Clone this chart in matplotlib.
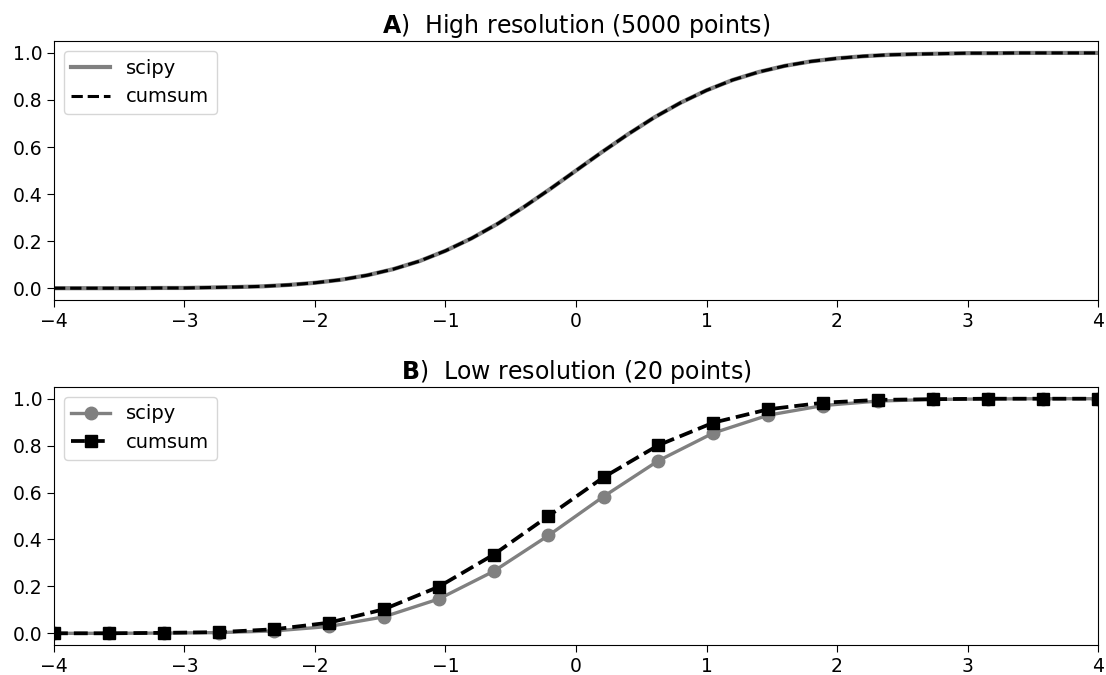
import numpy as np
import matplotlib.pyplot as plt

# high resolution curve, sampled every 0.2
x_hi = [-4.0, -3.8, -3.6, -3.4, -3.2, -3.0, -2.8, -2.6, -2.4, -2.2, -2.0,
        -1.8, -1.6, -1.4, -1.2, -1.0, -0.8, -0.6, -0.4, -0.2, 0.0,
        0.2, 0.4, 0.6, 0.8, 1.0, 1.2, 1.4, 1.6, 1.8, 2.0,
        2.2, 2.4, 2.6, 2.8, 3.0, 3.2, 3.4, 3.6, 3.8, 4.0]
y_hi = [0.000, 0.000, 0.000, 0.000, 0.001, 0.001, 0.003, 0.005, 0.008, 0.014, 0.023,
        0.036, 0.055, 0.081, 0.115, 0.159, 0.212, 0.274, 0.345, 0.421, 0.500,
        0.579, 0.655, 0.726, 0.788, 0.841, 0.885, 0.919, 0.945, 0.964, 0.977,
        0.986, 0.992, 0.995, 0.997, 0.999, 0.999, 1.000, 1.000, 1.000, 1.000]

# low resolution, 20 points
x_lo = [-4.0, -3.579, -3.158, -2.737, -2.316, -1.895, -1.474, -1.053, -0.632, -0.211,
        0.211, 0.632, 1.053, 1.474, 1.895, 2.316, 2.737, 3.158, 3.579, 4.0]
scipy_lo = [0.000, 0.000, 0.001, 0.003, 0.010, 0.029, 0.070, 0.146, 0.264, 0.417,
            0.583, 0.736, 0.854, 0.930, 0.971, 0.990, 0.997, 0.999, 1.000, 1.000]
cumsum_lo = [0.000, 0.000, 0.002, 0.005, 0.017, 0.045, 0.102, 0.198, 0.335, 0.500,
             0.665, 0.802, 0.898, 0.955, 0.983, 0.995, 0.998, 1.000, 1.000, 1.000]

fig = plt.figure(figsize=(11.06, 6.75), dpi=100)
ax1 = fig.add_axes([0.0488, 0.5556, 0.944, 0.3834])
ax2 = fig.add_axes([0.0488, 0.0444, 0.944, 0.3823])

ax1.plot(x_hi, y_hi, color='gray', linewidth=3, label='scipy')
ax1.plot(x_hi, y_hi, 'k--', linewidth=2.2, label='cumsum')
ax1.set_title(r'$\bf{A}$)  High resolution (5000 points)', fontsize=17)

ax2.plot(x_lo, scipy_lo, '-o', color='gray', linewidth=2.4, markersize=9, label='scipy')
ax2.plot(x_lo, cumsum_lo, 'k--s', linewidth=2.7, markersize=9, label='cumsum')
ax2.set_title(r'$\bf{B}$)  Low resolution (20 points)', fontsize=17)

for ax in (ax1, ax2):
    ax.set_xlim(-4, 4)
    ax.set_ylim(-0.05, 1.05)
    ax.set_yticks([0, 0.2, 0.4, 0.6, 0.8, 1.0])
    ax.tick_params(labelsize=13.5, length=5)
    ax.legend(loc='upper left', fontsize=14)

fig.savefig('out.png', dpi=100)
